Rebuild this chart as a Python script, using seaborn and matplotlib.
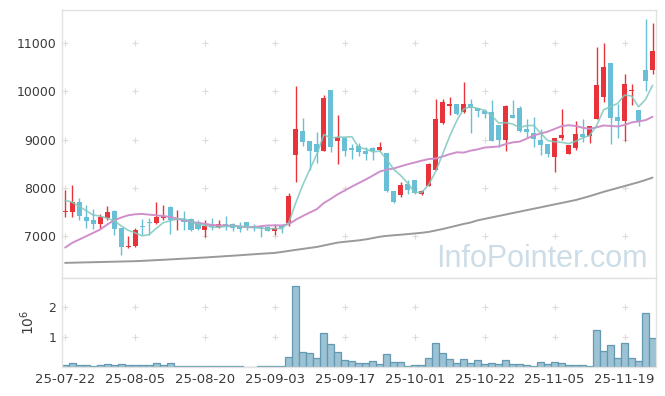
import numpy as np
import pandas as pd
import matplotlib
matplotlib.use("Agg")
import matplotlib.pyplot as plt
import seaborn as sns

# 일봉 데이터
opens = [7500, 7500, 7703, 7393, 7338, 7255, 7386, 7517, 7165, 6780,
         6800, 7221, 7297, 7276, 7372, 7600, 7331, 7365, 7365, 7300,
         7124, 7248, 7193, 7262, 7262, 7193, 7290, 7214, 7186, 7186,
         7110, 7207, 7276, 8690, 9172, 8966, 8903, 8766, 10034, 8972,
         9034, 8821, 8876, 8766, 8834, 8786, 8724, 7938, 7848, 8090,
         8159, 7883, 8048, 8379, 9345, 9703, 9731, 9572, 9731, 9662,
         9593, 9572, 9297, 8986, 9517, 9662, 9228, 9138, 9000, 8903,
         8641, 9034, 8697, 8828, 9124, 9069, 9434, 9883, 10586, 9469,
         9386, 10000, 9607, 10448, 10448]
highs = [7966, 8055, 7800, 7640, 7570, 7470, 7620, 7540, 7165, 7000,
         7165, 7350, 7370, 7717, 7640, 7634, 7538, 7524, 7370, 7330,
         7330, 7386, 7330, 7414, 7276, 7290, 7290, 7250, 7186, 7207,
         7250, 7207, 7897, 10103, 9441, 8966, 9150, 9931, 10034, 9517,
         9034, 8903, 8931, 8848, 8848, 8952, 8724, 7938, 8124, 8159,
         8159, 7966, 8517, 9841, 9841, 9883, 9731, 10186, 9848, 9662,
         9641, 9814, 9297, 9710, 9828, 9703, 9434, 9469, 9228, 8903,
         9041, 9641, 8883, 9386, 9434, 9276, 10917, 11000, 10586, 9731,
         10352, 10159, 9607, 11503, 11421]
lows = [7400, 7400, 7330, 7170, 7145, 7160, 7330, 7035, 6607, 6765,
        6780, 7020, 7020, 7260, 7330, 7040, 7124, 7124, 7110, 7124,
        6986, 7124, 7172, 7124, 7110, 7090, 7124, 7110, 6986, 7110,
        7030, 7075, 7220, 8124, 8862, 8366, 8517, 8766, 8738, 8503,
        8670, 8607, 8669, 8572, 8586, 8766, 7917, 7690, 7814, 7883,
        7883, 7855, 8034, 8366, 9331, 9503, 9503, 9552, 9138, 9469,
        9455, 8972, 8848, 8766, 9448, 9159, 9041, 8848, 8676, 8641,
        8331, 9000, 8697, 8779, 8952, 8931, 9434, 9779, 8903, 9034,
        8966, 9710, 9276, 10007, 10352]
closes = [7520, 7710, 7414, 7310, 7255, 7393, 7497, 7150, 6780, 6807,
          7124, 7186, 7276, 7393, 7414, 7331, 7365, 7290, 7124, 7140,
          7207, 7193, 7262, 7220, 7172, 7152, 7165, 7180, 7165, 7110,
          7172, 7165, 7828, 9220, 8952, 8766, 8745, 9855, 8848, 9055,
          8766, 8786, 8738, 8697, 8759, 8841, 7931, 7703, 8055, 7952,
          7897, 7938, 8503, 9434, 9772, 9731, 9524, 9731, 9662, 9593,
          9524, 8972, 8986, 9690, 9448, 9179, 9152, 9014, 8883, 8697,
          9041, 9090, 8883, 9124, 9055, 9276, 10124, 10517, 9455, 9386,
          10145, 10034, 9386, 10214, 10848]
# 거래량 (단위: 10^6)
volumes = [0.067, 0.13, 0.067, 0.067, 0.033, 0.067, 0.1, 0.067, 0.1, 0.067,
           0.067, 0.067, 0.067, 0.13, 0.067, 0.13, 0.033, 0.033, 0.033, 0.033,
           0.033, 0.033, 0.033, 0.033, 0.033, 0.033, 0.0, 0.0, 0.033, 0.033,
           0.033, 0.033, 0.33, 2.7, 0.5, 0.47, 0.3, 1.13, 0.77, 0.5,
           0.23, 0.2, 0.13, 0.13, 0.2, 0.1, 0.43, 0.17, 0.17, 0.03,
           0.07, 0.07, 0.3, 0.8, 0.47, 0.27, 0.13, 0.27, 0.13, 0.23,
           0.1, 0.13, 0.1, 0.23, 0.1, 0.1, 0.07, 0.03, 0.17, 0.1,
           0.17, 0.13, 0.07, 0.07, 0.07, 0.03, 1.23, 0.53, 0.73, 0.3,
           0.8, 0.3, 0.2, 1.8, 0.97]

# 이동평균: 화면 밖 이전 종가 / 처음 구간 값은 그림에서 읽음
ma5_prior_close = [7900, 7850, 7750, 7700]
ma20_head = [6766, 6862, 6931, 7000, 7069, 7138, 7241, 7331, 7386, 7434,
             7455, 7462, 7448, 7434, 7420, 7400, 7365, 7331, 7303]
ma_long = [6448, 6452, 6455, 6459, 6462, 6466, 6469, 6473, 6476, 6480,
           6483, 6490, 6497, 6505, 6512, 6520, 6528, 6536, 6544, 6552,
           6560, 6569, 6578, 6588, 6597, 6607, 6617, 6627, 6637, 6646,
           6655, 6675, 6697, 6718, 6738, 6758, 6779, 6809, 6839, 6869,
           6885, 6900, 6915, 6935, 6962, 6990, 7008, 7020, 7032, 7045,
           7058, 7072, 7090, 7120, 7150, 7185, 7220, 7255, 7285, 7330,
           7360, 7390, 7420, 7450, 7480, 7510, 7540, 7570, 7600, 7630,
           7660, 7690, 7720, 7750, 7790, 7830, 7875, 7920, 7960, 8000,
           8040, 8080, 8120, 8165, 8215]

tick_labels = ['25-07-22', '25-08-05', '25-08-20', '25-09-03', '25-09-17',
               '25-10-01', '25-10-22', '25-11-05', '25-11-19']

# 데이터프레임 구성
df = pd.DataFrame({'open': opens, 'high': highs, 'low': lows,
                   'close': closes, 'volume': volumes})
df['idx'] = np.arange(len(df))
ext = pd.Series(ma5_prior_close + closes)
df['ma5'] = ext.rolling(5).mean().iloc[len(ma5_prior_close):].values
ma20 = df['close'].rolling(20).mean()
ma20.iloc[:len(ma20_head)] = ma20_head
df['ma20'] = ma20
df['ma_long'] = ma_long

RED = '#e8333b'
BLUE = '#69bfd6'

sns.set_theme(style="white")
plt.rcParams['font.family'] = ['DejaVu Sans']

fig = plt.figure(figsize=(6.65, 3.96), dpi=100)
ax1 = fig.add_axes([0.0932, 0.298, 0.8933, 0.677])
ax2 = fig.add_axes([0.0932, 0.0732, 0.8933, 0.2248])

# 캔들
up = df['close'] >= df['open']
colors = np.where(up, RED, BLUE)
body_bottom = np.minimum(df['open'], df['close'])
body_h = np.maximum((df['close'] - df['open']).abs(), 18)
ax1.vlines(df['idx'], df['low'], df['high'], colors=colors, lw=1, zorder=2)
ax1.bar(df['idx'], body_h, bottom=body_bottom, width=0.72, color=colors,
        linewidth=0, zorder=3)

# 이동평균선
sns.lineplot(data=df, x='idx', y='ma_long', ax=ax1, color='#9a9a9a', lw=1.4, zorder=4)
sns.lineplot(data=df, x='idx', y='ma20', ax=ax1, color='#cf8fcb', lw=1.4, zorder=4)
sns.lineplot(data=df, x='idx', y='ma5', ax=ax1, color='#80c8bd', lw=1.2, alpha=0.85, zorder=5)

# 거래량
sns.barplot(data=df, x='idx', y='volume', ax=ax2, native_scale=True, width=1,
            color='#9cc2d3', edgecolor='#6399b2', linewidth=0.9, saturation=1,
            errorbar=None, zorder=2)

xticks = np.arange(0, len(df), 10)
for ax, yt in [(ax1, [7000, 8000, 9000, 10000, 11000]), (ax2, [1, 2])]:
    ax.set_xlim(-0.45, 84.5)
    ax.set_yticks(yt)
    ax.set_xticks(xticks)
    gx, gy = np.meshgrid(xticks, yt)
    ax.plot(gx.ravel(), gy.ravel(), '+', color='#dcdcdc', ms=5, mew=0.8, zorder=0)
    for s in ax.spines.values():
        s.set_color('#e2e2e2')
        s.set_linewidth(1)
    ax.tick_params(length=0, labelsize=9, colors='#3a3a3a', pad=4)
    ax.set_xlabel('')
    ax.set_ylabel('')

ax1.set_ylim(6135, 11690)
ax1.set_xticklabels([])
ax2.set_ylim(0, 2.97)
ax2.set_xticklabels(tick_labels, fontsize=9.5)
ax2.set_ylabel('$10^6$', fontsize=10, color='#3a3a3a')
ax2.yaxis.set_label_coords(-0.042, 0.5)

# 워터마크
ax1.text(0.9865, 0.041, 'InfoPointer.com', transform=ax1.transAxes,
         ha='right', va='baseline', fontsize=22, color='#cddde8',
         family=['Liberation Sans', 'DejaVu Sans'], zorder=1)

fig.savefig('out.png', dpi=100)
